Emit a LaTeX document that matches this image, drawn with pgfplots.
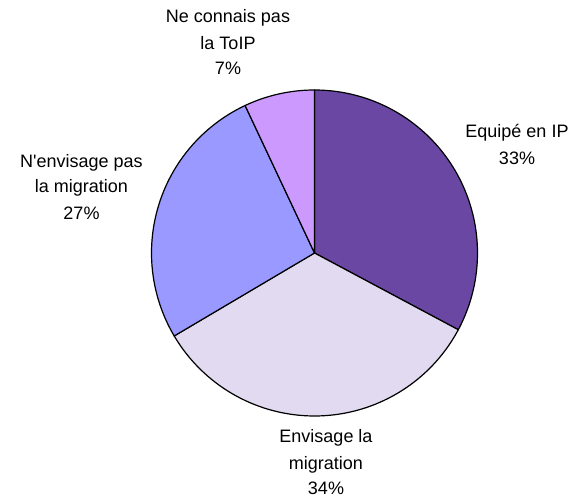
\documentclass[border=0pt]{standalone}
\usepackage{pgfplots}
\pgfplotsset{compat=1.18}
\usepackage{fontspec}
\setmainfont{Liberation Sans}
\definecolor{cEq}{HTML}{6A47A3}
\definecolor{cEnv}{HTML}{E2DAF0}
\definecolor{cNenv}{HTML}{9999FF}
\definecolor{cNc}{HTML}{CC99FF}
\tikzset{lbl/.style={font=\fontsize{18bp}{26bp}\selectfont, anchor=base, inner sep=0pt}}
% shares in percent (clockwise from 12 o'clock)
\def\vEq{32.8}
\def\vEnv{33.7}
\def\vNenv{26.5}
\def\vNc{7.0}
\begin{document}
\begin{tikzpicture}
\pgfmathsetmacro{\aA}{90}
\pgfmathsetmacro{\aB}{\aA-3.6*\vEq}
\pgfmathsetmacro{\aC}{\aB-3.6*\vEnv}
\pgfmathsetmacro{\aD}{\aC-3.6*\vNenv}
\pgfmathsetmacro{\aE}{\aD-3.6*\vNc}
\begin{axis}[
  scale only axis, width=577bp, height=499bp,
  xmin=0, xmax=577, ymin=0, ymax=499,
  hide axis, clip=false,
  every axis plot/.append style={draw=black, line width=1.2bp, line join=round},
]
\addplot[fill=cEq, domain=\aB:\aA, samples=80, variable=\t]
  ({314.5+163*cos(\t)},{246+163*sin(\t)}) -- (axis cs:314.5,246) -- cycle;
\addplot[fill=cEnv, domain=\aC:\aB, samples=80, variable=\t]
  ({314.5+163*cos(\t)},{246+163*sin(\t)}) -- (axis cs:314.5,246) -- cycle;
\addplot[fill=cNenv, domain=\aD:\aC, samples=80, variable=\t]
  ({314.5+163*cos(\t)},{246+163*sin(\t)}) -- (axis cs:314.5,246) -- cycle;
\addplot[fill=cNc, domain=\aE:\aD, samples=30, variable=\t]
  ({314.5+163*cos(\t)},{246+163*sin(\t)}) -- (axis cs:314.5,246) -- cycle;
\node[lbl] at (axis cs:517,361) {Equipé en IP};
\node[lbl] at (axis cs:517,334) {33\%};
\node[lbl] at (axis cs:326,56) {Envisage la};
\node[lbl] at (axis cs:326,29) {migration};
\node[lbl] at (axis cs:326,4) {34\%};
\node[lbl] at (axis cs:81.5,331) {N\textquotesingle envisage pas};
\node[lbl] at (axis cs:81.5,306) {la migration};
\node[lbl] at (axis cs:81.5,279) {27\%};
\node[lbl] at (axis cs:228,476) {Ne connais pas};
\node[lbl] at (axis cs:228,449) {la ToIP};
\node[lbl] at (axis cs:228,424) {7\%};
\end{axis}
\pgfresetboundingbox
\path[use as bounding box] (current axis.south west) rectangle (current axis.north east);
\end{tikzpicture}
\end{document}
